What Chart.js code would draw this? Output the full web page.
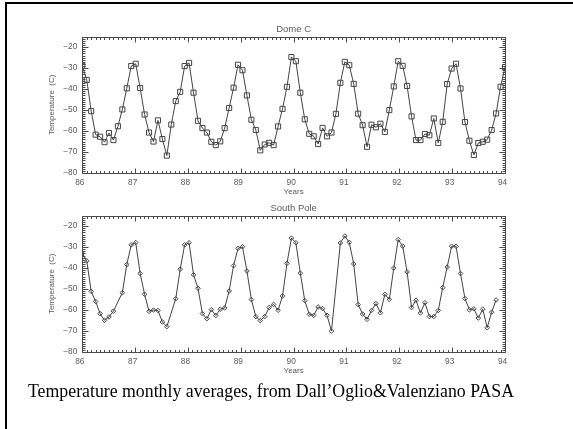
<!DOCTYPE html>
<html><head><meta charset="utf-8">
<script src="https://cdn.jsdelivr.net/npm/chart.js@4/dist/chart.umd.min.js"></script>
<style>
html,body{margin:0;padding:0;background:#fff;}
body{width:573px;height:429px;position:relative;overflow:hidden;}
#frame{position:absolute;left:5px;top:2px;right:-10px;bottom:-10px;border-top:2.5px solid #000;border-left:2.5px solid #000;}
canvas{position:absolute;left:0;}
#c1{top:0px}
#c2{top:179px}
#caption{position:absolute;left:28px;top:381.5px;line-height:18px;font-family:"Liberation Serif","Times New Roman",serif;font-size:17.8px;color:#000;white-space:nowrap;}
</style></head>
<body>
<div id="frame"></div>
<canvas id="c1" width="573" height="200"></canvas>
<canvas id="c2" width="573" height="200"></canvas>
<div id="caption">Temperature monthly averages, from Dall’Oglio&amp;Valenziano PASA</div>
<script>
// ---- data ----
const xTickValues = [86, 87, 88, 89, 90, 91, 92, 93, 94];
const xTickLabels = ['86', '87', '88', '89', '90', '91', '92', '93', '94'];
const yTickValues = [-80, -70, -60, -50, -40, -30, -20];
const yTickLabels = ['\u221280', '\u221270', '\u221260', '\u221250', '\u221240', '\u221230', '\u221220'];

const domeC = [
  -28.9, -35.6, -50.5, -61.7, -62.7, -65.3, -60.9, -64.3, -57.7, -49.7, -39.6, -29.0,
  -27.9, -39.5, -52.1, -60.7, -65.0, -54.9, -63.8, -71.7, -56.9, -45.7, -41.3, -29.0,
  -27.5, -41.7, -55.1, -58.6, -60.7, -65.1, -66.7, -64.9, -58.6, -49.0, -39.3, -28.4,
  -31.0, -43.0, -54.6, -59.5, -69.2, -66.4, -65.6, -66.7, -57.8, -49.4, -38.9, -24.7,
  -26.7, -41.7, -54.4, -61.3, -62.5, -66.2, -58.5, -62.5, -60.7, -51.8, -37.0, -27.0,
  -28.6, -37.5, -51.7, -57.2, -67.5, -57.0, -58.2, -56.5, -60.4, -50.0, -38.7, -26.7,
  -28.9, -38.5, -53.0, -64.3, -64.3, -61.4, -62.0, -54.0, -65.7, -55.6, -37.6, -30.2,
  -27.9, -39.7, -55.7, -64.6, -71.4, -65.7, -65.1, -64.1, -59.5, -51.6, -38.9, -29.5
];

const southPole = [
  -33.0, -36.5, -51.1, -55.9, -61.7, -64.9, -63.3, -60.5, null, -51.7, -38.3, -28.9,
  -27.8, -42.5, -52.5, -60.6, -60.0, -60.2, -65.7, -67.9, null, -54.6, -40.5, -28.9,
  -27.9, -43.2, -49.6, -61.7, -64.1, -59.8, -62.6, -59.6, -59.0, -50.9, -38.8, -30.6,
  -29.8, -41.4, -55.0, -63.1, -65.0, -63.1, -58.8, -57.3, -60.1, -53.3, -37.7, -25.7,
  -27.9, -42.4, -55.5, -62.0, -62.6, -58.5, -59.3, -62.5, -70.0, null, -28.0, -24.7,
  -27.7, -38.0, -57.4, -61.9, -64.4, -60.2, -56.9, -61.3, -52.5, -54.9, -40.0, -26.4,
  -29.5, -41.8, -58.8, -55.3, -61.4, -56.5, -63.1, -63.1, -60.2, -49.3, -39.5, -29.6,
  -29.6, -42.6, -54.5, -59.9, -59.4, -63.8, -59.6, -68.4, -61.0, -55.2
];

// ---- styling ----
const AXIS = '#4a4a4a';
const TEXT = '#5a5a5a';
const LINE = '#444444';
const X_MIN = 86, X_MAX = 94, Y_MIN = -80, Y_MAX = -15;
const STEP = (X_MAX - X_MIN) / (domeC.length - 1);

function toPoints(arr) {
  return arr.map((v, i) => ({ x: X_MIN + i * STEP, y: v }));
}

const frameTicks = {
  id: 'frameTicks',
  beforeDatasetsDraw(chart) {
    const { ctx, chartArea: a, scales: { x, y } } = chart;
    ctx.save();
    ctx.strokeStyle = AXIS;
    ctx.lineWidth = 1;
    ctx.beginPath();
    const L = Math.round(a.left) + 0.5, R = Math.round(a.right) + 0.5;
    const T = Math.round(a.top) + 0.5, B = Math.round(a.bottom) + 0.5;
    ctx.rect(L, T, R - L, B - T);
    const nx = Math.round((x.max - x.min) * 12);
    for (let k = 0; k <= nx; k++) {
      const px = Math.round(x.getPixelForValue(x.min + k / 12)) + 0.5;
      const len = (k % 12 === 0) ? 5 : 2.5;
      ctx.moveTo(px, B); ctx.lineTo(px, B - len);
      ctx.moveTo(px, T); ctx.lineTo(px, T + len);
    }
    for (let v = y.min; v <= y.max; v++) {
      const py = Math.round(y.getPixelForValue(v)) + 0.5;
      const len = (v % 10 === 0) ? 6 : 3;
      ctx.moveTo(L, py); ctx.lineTo(L + len, py);
      ctx.moveTo(R, py); ctx.lineTo(R - len, py);
    }
    ctx.stroke();
    ctx.restore();
  }
};

function makeChart(id, title, values, pointStyle, radius) {
  return new Chart(document.getElementById(id), {
    type: 'line',
    data: {
      datasets: [{
        data: toPoints(values),
        borderColor: LINE,
        borderWidth: 1,
        pointStyle: pointStyle,
        pointRadius: radius,
        pointBorderColor: LINE,
        pointBorderWidth: 1,
        pointBackgroundColor: 'rgba(0,0,0,0)',
        spanGaps: true,
        tension: 0
      }]
    },
    options: {
      responsive: false,
      animation: false,
      devicePixelRatio: 1,
      layout: { padding: { left: 0, right: 68, top: 0, bottom: 0 } },
      plugins: {
        legend: { display: false },
        tooltip: { enabled: false },
        title: {
          display: true,
          text: title,
          fullSize: false,
          color: TEXT,
          font: { family: 'Liberation Sans, Arial, sans-serif', size: 9.5, weight: 'normal' },
          padding: { top: 23.3, bottom: 2 }
        }
      },
      scales: {
        x: {
          type: 'linear',
          position: 'bottom',
          min: X_MIN, max: X_MAX,
          grid: { display: false, drawTicks: false },
          border: { display: false },
          afterBuildTicks: s => { s.ticks = xTickValues.map(v => ({ value: v })); },
          afterFit: s => { s.height = 27; s.paddingLeft = 0; s.paddingRight = 0; },
          ticks: {
            callback: (v) => xTickLabels[xTickValues.indexOf(v)],
            color: TEXT,
            padding: 4.7,
            labelOffset: -2.5,
            maxRotation: 0,
            autoSkip: false,
            font: { family: 'Liberation Sans, Arial, sans-serif', size: 8.3 }
          },
          title: {
            display: true,
            text: 'Years',
            color: TEXT,
            font: { family: 'Liberation Sans, Arial, sans-serif', size: 8 },
            padding: { top: 0, bottom: 3.5 }
          }
        },
        y: {
          min: Y_MIN, max: Y_MAX,
          grid: { display: false, drawTicks: false },
          border: { display: false },
          afterBuildTicks: s => { s.ticks = yTickValues.map(v => ({ value: v })); },
          afterFit: s => { s.width = 82.3; s.paddingTop = 0; s.paddingBottom = 0; },
          ticks: {
            callback: (v) => yTickLabels[yTickValues.indexOf(v)],
            color: TEXT,
            padding: 5,
            autoSkip: false,
            font: { family: 'Liberation Sans, Arial, sans-serif', size: 8.3 }
          },
          title: {
            display: true,
            text: 'Temperature  (C)',
            color: TEXT,
            font: { family: 'Liberation Sans, Arial, sans-serif', size: 8 },
            padding: { top: 47.2, bottom: 0 }
          }
        }
      }
    },
    plugins: [frameTicks]
  });
}

makeChart('c1', 'Dome C', domeC, 'rect', 3.6);
makeChart('c2', 'South Pole', southPole, 'rectRot', 2.3);
</script>
</body></html>
